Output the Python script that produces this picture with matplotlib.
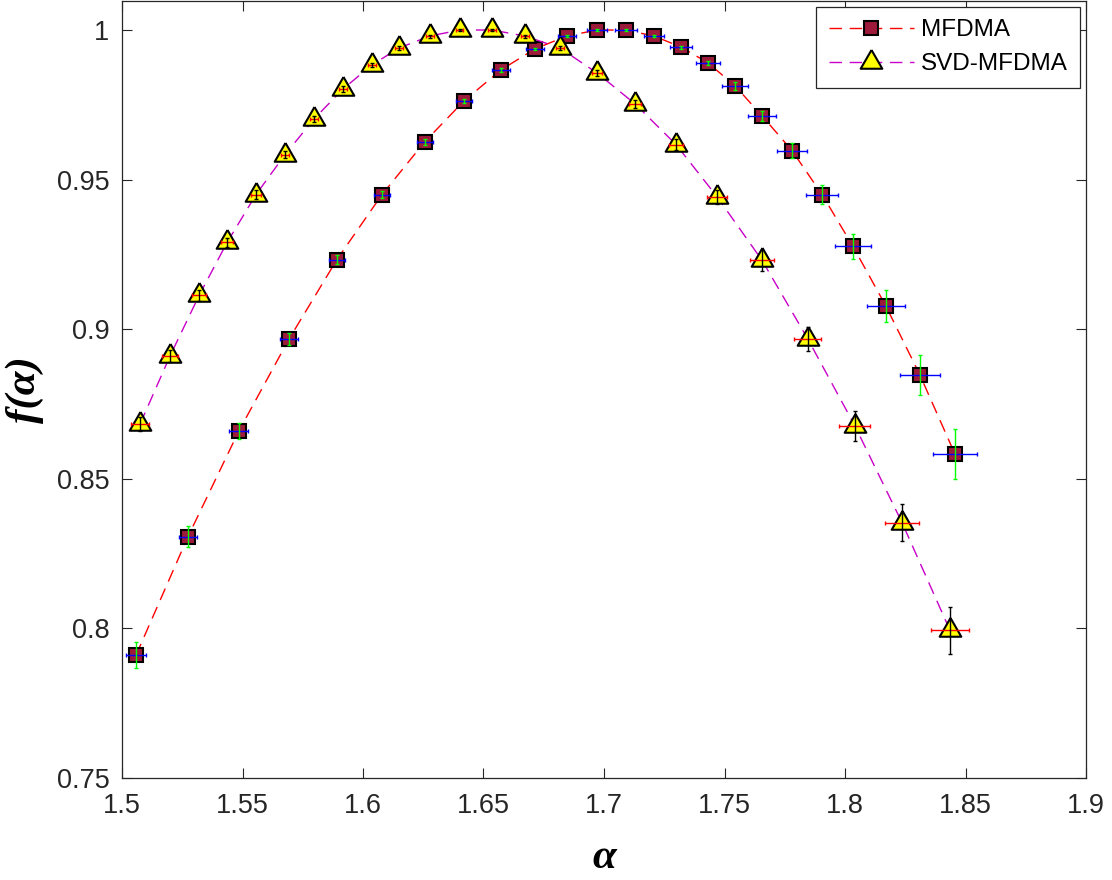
import matplotlib
matplotlib.use('Agg')
import matplotlib.pyplot as plt
import numpy as np

# MFDMA spectrum (alpha, f(alpha)) with error estimates
alpha_mf = [1.5058, 1.5274, 1.5485, 1.5693, 1.5892, 1.6079, 1.6257, 1.6419,
            1.6573, 1.6714, 1.6846, 1.6971, 1.7091, 1.7207, 1.7320, 1.7432,
            1.7544, 1.7656, 1.7780, 1.7905, 1.8033, 1.8170, 1.8311, 1.8456]
f_mf = [0.7910, 0.8307, 0.8660, 0.8967, 0.9233, 0.9450, 0.9627, 0.9763,
        0.9867, 0.9937, 0.9980, 1.0000, 1.0000, 0.9980, 0.9943, 0.9890,
        0.9813, 0.9713, 0.9597, 0.9450, 0.9277, 0.9077, 0.8847, 0.8583]
xerr_mf = [0.0041, 0.0039, 0.0039, 0.0036, 0.0035, 0.0035, 0.0034, 0.0034,
           0.0036, 0.0037, 0.0037, 0.0040, 0.0045, 0.0042, 0.0046, 0.0050,
           0.0053, 0.0057, 0.0062, 0.0068, 0.0073, 0.0078, 0.0084, 0.0092]
yerr_mf = [0.0043, 0.0036, 0.0028, 0.0020, 0.0016, 0.0013, 0.0010, 0.0007,
           0.0007, 0.0004, 0.0003, 0.0003, 0.0003, 0.0004, 0.0005, 0.0007,
           0.0012, 0.0016, 0.0024, 0.0031, 0.0042, 0.0053, 0.0068, 0.0082]

# SVD-MFDMA spectrum
alpha_svd = [1.5075, 1.5199, 1.5320, 1.5436, 1.5556, 1.5676, 1.5797, 1.5917,
             1.6037, 1.6149, 1.6278, 1.6402, 1.6535, 1.6672, 1.6817, 1.6970,
             1.7129, 1.7299, 1.7469, 1.7656, 1.7846, 1.8041, 1.8237, 1.8436]
f_svd = [0.8683, 0.8910, 0.9113, 0.9290, 0.9450, 0.9583, 0.9703, 0.9803,
         0.9883, 0.9940, 0.9980, 1.0000, 1.0000, 0.9980, 0.9940, 0.9857,
         0.9753, 0.9617, 0.9443, 0.9230, 0.8967, 0.8677, 0.8353, 0.7993]
xerr_svd = [0.0036, 0.0035, 0.0030, 0.0025, 0.0020, 0.0018, 0.0016, 0.0015,
            0.0015, 0.0015, 0.0015, 0.0015, 0.0015, 0.0016, 0.0018, 0.0020,
            0.0025, 0.0030, 0.0043, 0.0051, 0.0056, 0.0064, 0.0072, 0.0079]
yerr_svd = [0.0022, 0.0020, 0.0018, 0.0016, 0.0014, 0.0012, 0.0010, 0.0009,
            0.0008, 0.0006, 0.0005, 0.0004, 0.0004, 0.0005, 0.0007, 0.0010,
            0.0014, 0.0018, 0.0023, 0.0034, 0.0040, 0.0050, 0.0062, 0.0078]

x_ticks = [1.5, 1.55, 1.6, 1.65, 1.7, 1.75, 1.8, 1.85, 1.9]
x_labels = ['1.5', '1.55', '1.6', '1.65', '1.7', '1.75', '1.8', '1.85', '1.9']
y_ticks = [0.75, 0.8, 0.85, 0.9, 0.95, 1.0]
y_labels = ['0.75', '0.8', '0.85', '0.9', '0.95', '1']


def plot_data():
    plt.rcParams['font.family'] = ['Liberation Sans', 'DejaVu Sans']
    axis_col = '#262626'

    fig = plt.figure(figsize=(11.12, 8.8), dpi=100)
    ax = fig.add_axes([122 / 1112, 1 - 778 / 880, 964 / 1112, 777 / 880])

    # triangle centred on its centroid, like the MATLAB marker
    tri = [(0, 2), (-1.73, -1), (1.73, -1), (0, 2)]

    ax.plot(alpha_mf, f_mf, color='#ff0000', lw=1.0, dashes=(9, 5.5),
            marker='s', ms=9.5, mfc='#9e1a3a', mec='black', mew=1.5,
            label='MFDMA', zorder=2)
    ax.plot(alpha_svd, f_svd, color='#c800c8', lw=1.0, dashes=(9, 5.5),
            marker=tri, ms=18, mfc='#ffff00', mec='black', mew=1.5,
            label='SVD-MFDMA', zorder=2)

    # error bars drawn over the markers
    kw = dict(fmt='none', elinewidth=1.0, capsize=1.6, capthick=1.0, zorder=3)
    ax.errorbar(alpha_mf, f_mf, xerr=xerr_mf, ecolor='#0000ff', **kw)
    ax.errorbar(alpha_mf, f_mf, yerr=yerr_mf, ecolor='#00ff00', **kw)
    ax.errorbar(alpha_svd, f_svd, xerr=xerr_svd, ecolor='#ff0000', **kw)
    ax.errorbar(alpha_svd, f_svd, yerr=yerr_svd, ecolor='black', **kw)

    ax.set_xlim(1.5, 1.9)
    ax.set_ylim(0.75, 1.0097)
    ax.set_xticks(x_ticks)
    ax.set_xticklabels(x_labels)
    ax.set_yticks(y_ticks)
    ax.set_yticklabels(y_labels)
    ax.tick_params(direction='in', length=7, width=0.8, colors=axis_col,
                   labelsize=19.5, top=True, right=True)
    ax.tick_params(axis='x', pad=11)
    ax.tick_params(axis='y', pad=9)
    for sp in ax.spines.values():
        sp.set_color(axis_col)
        sp.set_linewidth(0.9)

    lab = dict(family='Liberation Serif', style='italic', weight='bold',
               size=31, color='black')
    ax.set_xlabel('α', labelpad=14, **lab)
    ax.set_ylabel('f(α)', labelpad=9, **lab)

    leg = ax.legend(loc='upper right', fontsize=17.5, handlelength=3.5,
                    numpoints=1, borderaxespad=0.25, fancybox=False,
                    framealpha=1, edgecolor=axis_col, borderpad=0.5,
                    labelspacing=0.5, handletextpad=0.3)
    leg.get_frame().set_linewidth(0.9)

    fig.savefig('out.png', dpi=100)


if __name__ == '__main__':
    plot_data()
